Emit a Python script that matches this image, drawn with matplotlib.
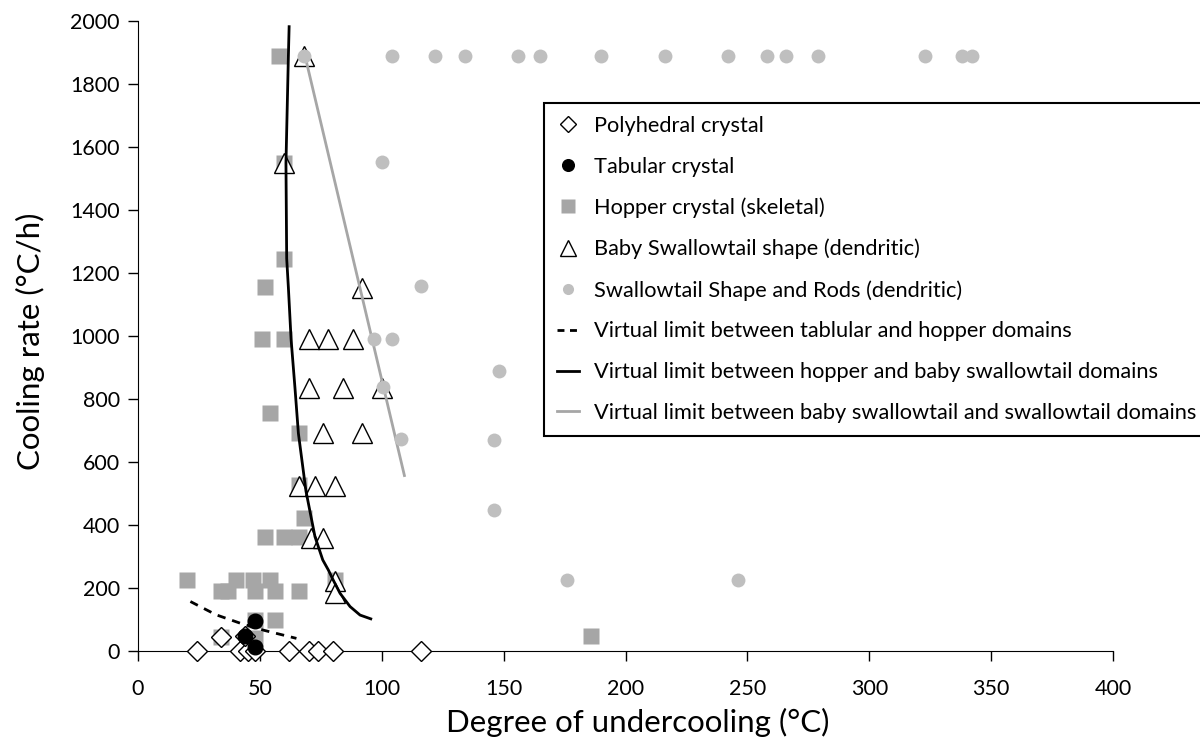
import matplotlib.pyplot as plt

plt.rcParams['font.family'] = ['Lato', 'DejaVu Sans']

# Polyhedral crystal
poly_x = [24, 42, 45, 48, 62, 70, 74, 80, 116, 34, 44]
poly_y = [0, 0, 0, 0, 0, 0, 0, 0, 0, 45, 48]

# Tabular crystal
tab_x = [48, 44, 48]
tab_y = [96, 48, 12]

# Hopper crystal (skeletal)
hop_x = [58, 60, 60, 52, 51, 60, 54, 66, 66, 68, 52, 60, 66,
         20, 40, 47, 54, 81, 34, 37, 48, 56, 66, 48, 56, 34, 48, 186]
hop_y = [1890, 1550, 1246, 1154, 990, 990, 757, 693, 527, 422, 363, 363, 363,
         225, 225, 225, 225, 225, 190, 190, 190, 190, 190, 97, 98, 45, 40, 48]

# Baby swallowtail shape (dendritic)
baby_x = [68, 60, 92, 70, 78, 88, 70, 84, 100, 76, 92, 66, 72.5, 81, 71, 76, 81, 81]
baby_y = [1890, 1548, 1153, 990, 990, 990, 835, 835, 835, 691, 691, 524, 524, 524,
          360, 360, 223, 185]

# Swallowtail shape and rods (dendritic)
swal_x = [68, 104, 122, 134, 156, 165, 190, 216, 242, 258, 266, 279, 323, 338, 342,
          100, 116, 97, 104, 100.5, 148, 108, 146, 146, 176, 246]
swal_y = [1890] * 15 + [1553, 1159, 992, 992, 839, 889, 672, 670, 447, 225, 225]

# Virtual limits
tab_hop_x = [21.5, 32, 42, 52, 65]
tab_hop_y = [157, 115, 88, 65, 40]

hop_baby_x = [62, 61.7, 60.7, 61, 61.7, 62.8, 64.4, 65.8, 68.9, 72.6, 75.8, 78.1,
              80.1, 82.9, 87, 91.1, 95.5]
hop_baby_y = [1982, 1890, 1548, 1246, 1153, 990, 835, 691, 508, 363, 289, 257,
              225, 183, 141, 114, 102]

baby_swal_x = [68.5, 109.3]
baby_swal_y = [1890, 557]

fig = plt.figure(figsize=(12, 7.4), dpi=100)
ax = fig.add_axes([0.115, 0.1203, 0.8125, 0.8513])

ax.plot(hop_x, hop_y, 's', color='#a6a6a6', ms=12, mec='none', zorder=2,
        clip_on=False, label='Hopper crystal (skeletal)')
ax.plot(poly_x, poly_y, 'D', color='white', ms=10, mec='black', mew=1, zorder=3,
        clip_on=False, label='Polyhedral crystal')
ax.plot(tab_x, tab_y, 'o', color='black', ms=10.5, zorder=4, clip_on=False,
        label='Tabular crystal')
ax.plot(baby_x, baby_y, '^', color='white', ms=15, mec='black', mew=1, zorder=5,
        clip_on=False, label='Baby Swallowtail shape (dendritic)')
ax.plot(swal_x, swal_y, 'o', color='#bfbfbf', ms=10, mec='none', zorder=6,
        clip_on=False, label='Swallowtail Shape and Rods (dendritic)')

ax.plot(tab_hop_x, tab_hop_y, color='black', lw=2, ls=(0, (3, 2.5)), zorder=7,
        label='Virtual limit between tablular and hopper domains')
ax.plot(hop_baby_x, hop_baby_y, color='black', lw=2, zorder=7,
        label='Virtual limit between hopper and baby swallowtail domains')
ax.plot(baby_swal_x, baby_swal_y, color='#a6a6a6', lw=2, zorder=5.5,
        label='Virtual limit between baby swallowtail and swallowtail domains')

ax.set_xlim(0, 400)
ax.set_ylim(0, 2000)
ax.set_xticks(range(0, 401, 50))
ax.set_yticks(range(0, 2001, 200))
ax.spines['top'].set_visible(False)
ax.spines['right'].set_visible(False)
ax.tick_params(labelsize=15.5, length=7, width=1)
ax.tick_params(axis='y', pad=6)
ax.tick_params(axis='x', pad=13)
ax.set_xlabel('Degree of undercooling (°C)', fontsize=22.5)
ax.set_ylabel('Cooling rate (°C/h)', fontsize=22.5)
ax.xaxis.set_label_coords(0.513, -0.09)
ax.yaxis.set_label_coords(-0.095, 0.492)

handles, labels = ax.get_legend_handles_labels()
order = [1, 2, 0, 3, 4, 5, 6, 7]
leg = fig.legend([handles[i] for i in order], [labels[i] for i in order],
                 loc='upper left', bbox_to_anchor=(544 / 1200, 1 - 103 / 740),
                 fontsize=15.7, frameon=True, fancybox=False, edgecolor='black',
                 framealpha=1, handlelength=1.0, handletextpad=0.7,
                 labelspacing=0.95, borderpad=0.6, borderaxespad=0)
leg.get_frame().set_linewidth(1.5)
for h in leg.legend_handles:
    if h.get_marker() not in (None, 'None', ''):
        h.set_markersize(h.get_markersize() * 0.8)
leg.legend_handles[5].set_linestyle((0, (2.5, 2)))

fig.savefig('out.png', dpi=100)
